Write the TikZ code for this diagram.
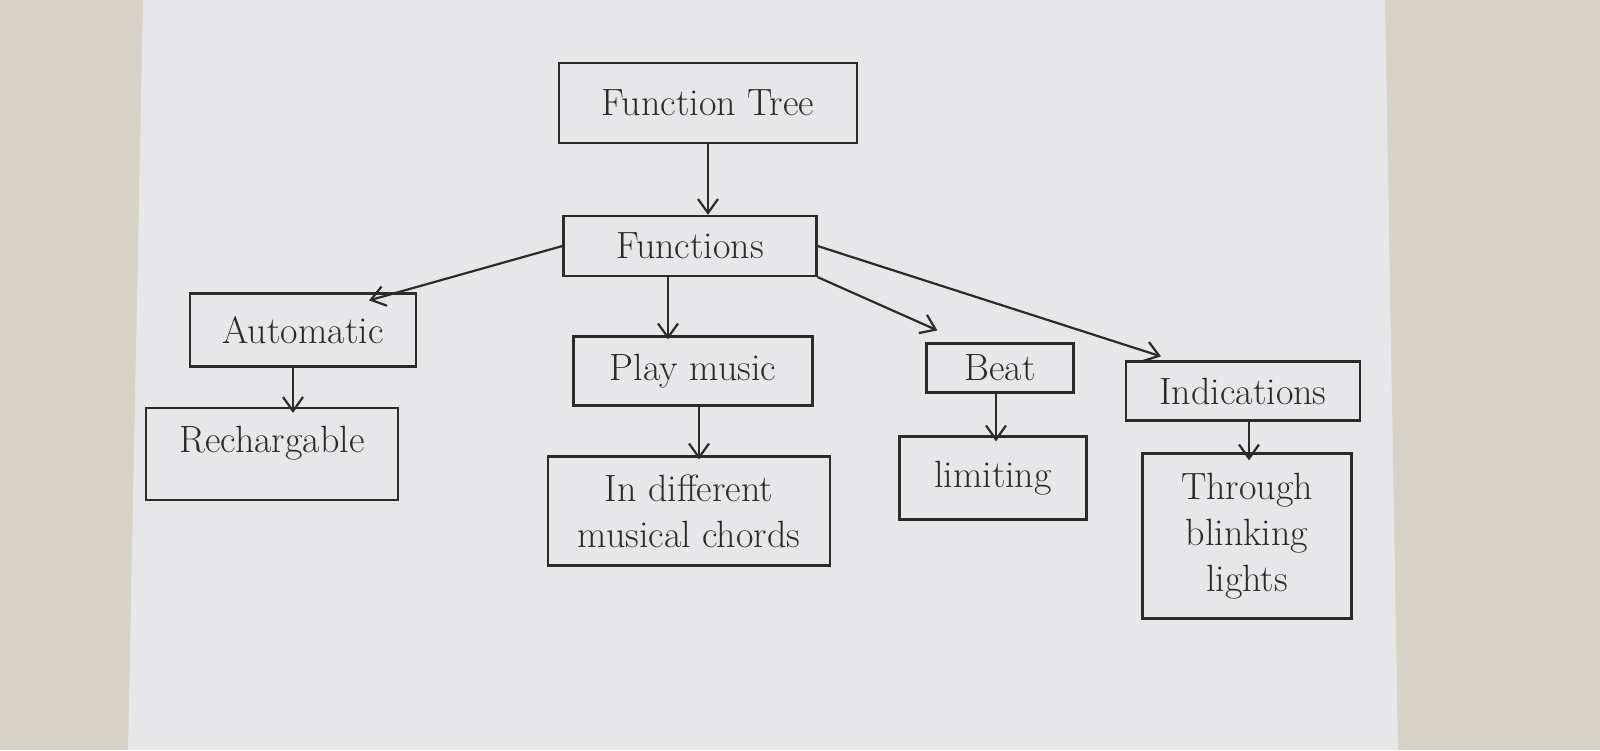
\documentclass[tikz,border=0pt]{standalone}
\usetikzlibrary{arrows.meta}
\definecolor{desk}{HTML}{D6D2C6}
\definecolor{paper}{HTML}{E7E7E9}
\definecolor{ink}{HTML}{2B2B2B}
\begin{document}
\begin{tikzpicture}[x=0.5pt,y=-0.5pt,
  box/.style={draw=ink,line width=1.1pt,text=ink,font=\fontsize{19}{23}\selectfont,
    align=center,inner sep=2pt},
  conn/.style={draw=ink,line width=1.1pt,-{Straight Barb[length=7pt,width=10pt]}}]
\useasboundingbox (0,0) rectangle (1600,750);
\fill[desk] (0,0) rectangle (1600,750);
\fill[paper] (143,0) -- (1385,0) -- (1398,750) -- (128,750) -- cycle;
% nodes
\node[box,minimum width=149pt,minimum height=40pt] (ft) at (708,103) {Function Tree};
\node[box,minimum width=126.5pt,minimum height=30pt] (fn) at (690,246) {Functions};
\node[box,minimum width=113pt,minimum height=36.5pt] (auto) at (303,330) {Automatic};
\node[box,minimum width=126pt,minimum height=46pt,text depth=15pt] (rech) at (272,454) {Rechargable};
\node[box,minimum width=119.5pt,minimum height=34.5pt] (play) at (693,371) {Play music};
\node[box,minimum width=141pt,minimum height=54.5pt] (diff) at (689,511) {In different\\musical chords};
\node[box,minimum width=73.5pt,minimum height=24.5pt] (beat) at (1000,368) {Beat};
\node[box,minimum width=93.5pt,minimum height=41.5pt] (lim) at (993,478) {limiting};
\node[box,minimum width=117pt,minimum height=29.5pt] (ind) at (1243,391) {Indications};
\node[box,minimum width=104.5pt,minimum height=82.5pt] (thr) at (1247,536) {Through\\blinking\\lights};
% connectors
\draw[conn] (ft.south) -- (ft.south |- fn.north);
\draw[conn] (fn.west) -- ([xshift=33pt,yshift=-4pt]auto.north);
\draw[conn] ([xshift=-11pt]fn.south) -- ([xshift=-11pt,yshift=-2pt]fn.south |- play.north);
\draw[conn] (fn.south east) -- ([xshift=6pt,yshift=6pt]beat.north west);
\draw[conn] (fn.east) -- ([xshift=-41pt,yshift=2pt]ind.north);
\draw[conn] ([xshift=-5pt]auto.south) -- ([xshift=-5pt,yshift=-3pt]auto.south |- rech.north);
\draw[conn] ([xshift=3pt]play.south) -- ([xshift=3pt,yshift=-2pt]play.south |- diff.north);
\draw[conn] ([xshift=-2pt]beat.south) -- ([xshift=-2pt,yshift=-3pt]beat.south |- lim.north);
\draw[conn] ([xshift=3pt]ind.south) -- ([xshift=3pt,yshift=-4pt]ind.south |- thr.north);
\end{tikzpicture}
\end{document}
